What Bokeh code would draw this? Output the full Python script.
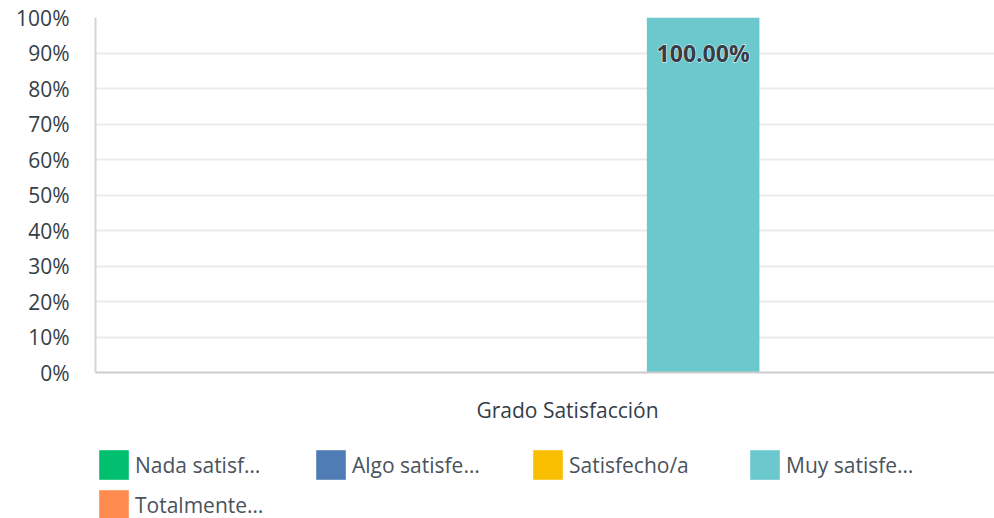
from bokeh.plotting import figure
from bokeh.layouts import column
from bokeh.models import ColumnDataSource, Range1d, FixedTicker, Legend, LegendItem
from bokeh.core.properties import value
from bokeh.embed import file_html
from bokeh.resources import INLINE

category = "Grado Satisfacción"
series = ["Nada satisf…", "Algo satisfe…", "Satisfecho/a", "Muy satisfe…", "Totalmente…"]
values = [0, 0, 0, 100, 0]
colors = ["#00bf6f", "#507cb6", "#f9be00", "#6bc8cd", "#ff8b4f"]
y_ticks = [0, 10, 20, 30, 40, 50, 60, 70, 80, 90, 100]

FONT = "Open Sans"
TXT = "#333e48"
spacing = 0.1445
bar_w = 0.12
xs = [(i - (len(series) - 1) / 2) * spacing for i in range(len(series))]

p = figure(width=994, height=446, x_range=Range1d(-0.503, 0.455), y_range=Range1d(0, 100),
           output_backend="svg", toolbar_location=None,
           min_border_left=95, min_border_right=0, min_border_top=17, min_border_bottom=74)
p.outline_line_color = None
p.background_fill_color = "white"
p.border_fill_color = "white"

src = ColumnDataSource(dict(x=xs, top=values, color=colors, label=series))
p.vbar(x="x", top="top", width=bar_w, fill_color="color", line_color=None, source=src)

# labels on bars (white halo underneath, dark text on top)
lx = [x for x, v in zip(xs, values) if v > 0]
ly = [v for v in values if v > 0]
lt = [f"{v:.2f}%" for v in values if v > 0]
for halo in (True, False):
    p.text(x=lx, y=ly, text=lt, text_align="center", text_baseline="middle", y_offset=35,
           text_font=value(FONT), text_font_size="23px", text_font_style="bold",
           text_color=TXT, text_outline_color="white" if halo else None)

# axes
p.yaxis.ticker = FixedTicker(ticks=y_ticks)
p.yaxis.major_label_overrides = {t: f"{t}%" for t in y_ticks}
p.yaxis.axis_line_color = "#d5d5d5"
p.yaxis.axis_line_width = 2
p.yaxis.major_tick_line_color = None
p.yaxis.minor_tick_line_color = None
p.yaxis.major_label_standoff = 20
p.yaxis.major_label_text_font = FONT
p.yaxis.major_label_text_font_size = "21px"
p.yaxis.major_label_text_color = TXT

p.xaxis.ticker = FixedTicker(ticks=[0])
p.xaxis.major_label_overrides = {0: category}
p.xaxis.axis_line_color = "#cccccc"
p.xaxis.axis_line_width = 2
p.xaxis.major_tick_line_color = None
p.xaxis.minor_tick_line_color = None
p.xaxis.major_label_standoff = 17
p.xaxis.major_label_text_font = FONT
p.xaxis.major_label_text_font_size = "21px"
p.xaxis.major_label_text_color = TXT

p.xgrid.grid_line_color = None
p.ygrid.ticker = FixedTicker(ticks=y_ticks)
p.ygrid.grid_line_color = "#ebebeb"
p.ygrid.grid_line_width = 2

# legend figure below
pl = figure(width=994, height=72, x_range=Range1d(0, 1), y_range=Range1d(0, 1),
            output_backend="svg", toolbar_location=None,
            min_border_left=95, min_border_right=0, min_border_top=0, min_border_bottom=0)
pl.axis.visible = False
pl.grid.visible = False
pl.outline_line_color = None
pl.border_fill_color = "white"

items = []
for s, c in zip(series, colors):
    r = pl.vbar(x=[0], top=[0], width=0.01, fill_color=c, line_color=None, border_radius=5)
    items.append(LegendItem(label=s, renderers=[r]))

legend = Legend(items=items, orientation="horizontal", ncols=4, location="top_left",
                glyph_width=37, glyph_height=37, label_width=174, label_height=37,
                label_standoff=3, spacing=3, padding=0, margin=0,
                label_text_font=FONT, label_text_font_size="21px", label_text_color="#4a535b",
                border_line_color=None, background_fill_alpha=0)
pl.add_layout(legend, "center")

open("out.html", "w").write(file_html(column(p, pl, spacing=0), INLINE))
